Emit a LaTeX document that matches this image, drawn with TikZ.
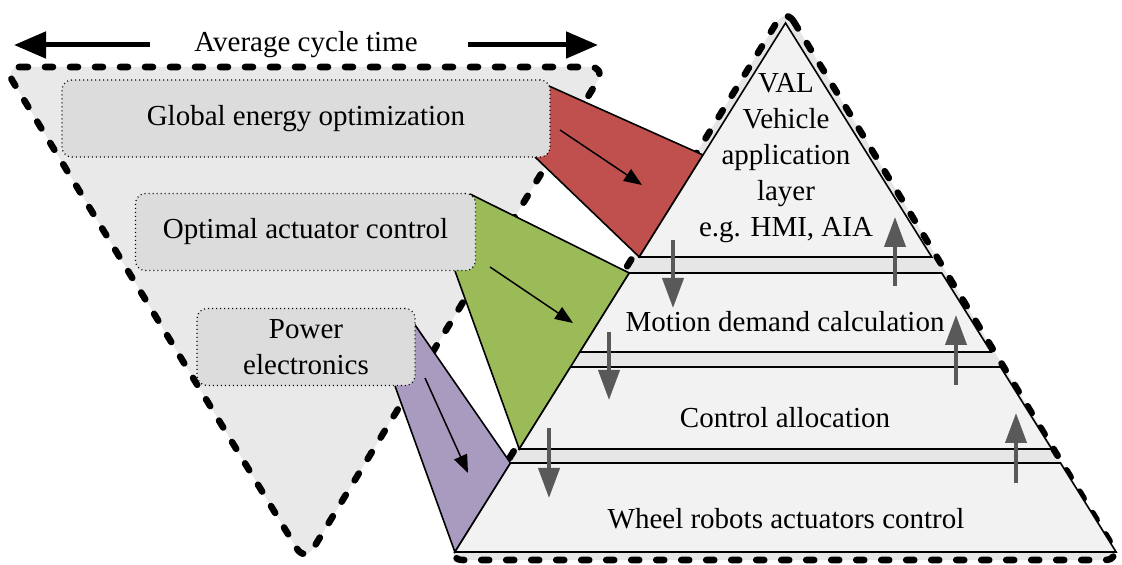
\documentclass[tikz,border=0pt]{standalone}
\usepackage{fontspec}
\setmainfont{Liberation Serif}
\usetikzlibrary{arrows.meta}
\definecolor{invfill}{HTML}{E9E9E9}
\definecolor{boxfill}{HTML}{DCDCDC}
\definecolor{bandfill}{HTML}{E6E6E6}
\definecolor{layerfill}{HTML}{F2F2F2}
\definecolor{redfill}{HTML}{C0504D}
\definecolor{greenfill}{HTML}{9BBB59}
\definecolor{purplefill}{HTML}{A99BC0}
\definecolor{arrowgray}{HTML}{595959}
\tikzset{
  dashborder/.style={draw=black, line width=3.3pt, dash pattern=on 4pt off 8.5pt, line cap=round, line join=round, rounded corners=8pt},
  layerbox/.style={fill=layerfill, draw=black, line width=0.8pt, line join=miter},
  dotbox/.style={draw=black, fill=boxfill, line width=0.6pt, dash pattern=on 0.5pt off 1.5pt, rounded corners=5pt, inner sep=0pt, align=center},
  wedge/.style={draw=black, line width=0.8pt, line join=miter},
  grayarrow/.style={draw=arrowgray, line width=2pt, -{Triangle[length=15pt,width=10.5pt]}},
  blackarrow/.style={draw=black, line width=0.75pt, -{Triangle[length=9pt,width=7pt]}},
  bigarrow/.style={draw=black, line width=2.5pt, -{Triangle[length=16pt,width=13pt]}},
  lbl/.style={font=\fontsize{14.5pt}{18pt}\selectfont, inner sep=0pt, align=center}
}
\begin{document}
\begin{tikzpicture}[x=0.5pt,y=-0.5pt]
\useasboundingbox (0,0) rectangle (1122,565);
% inverted triangle
\path[fill=invfill, rounded corners=8pt] (4,67) -- (606,67) -- (305,562) -- cycle;
\draw[dashborder] (4,67) -- (606,67) -- (305,562) -- cycle;
% pyramid outer
\path[fill=bandfill, rounded corners=8pt] (785.5,8) -- (1121,560) -- (447,560) -- cycle;
\draw[dashborder] (785.5,8) -- (1121,560) -- (447,560) -- cycle;
% coloured wedges
\fill[redfill] (540,82) -- (703,155) -- (639.25,257) -- (535,157) -- cycle;
\draw[wedge] (540,82) -- (703,155) -- (639.25,257) -- (535,157);
\fill[greenfill] (470,194) -- (629.25,273) -- (519.25,449) -- (455,271) -- cycle;
\draw[wedge] (470,194) -- (629.25,273) -- (519.25,449) -- (455,271);
\fill[purplefill] (413,322) -- (510.5,463) -- (454.9,552) -- (395,386) -- cycle;
\draw[wedge] (413,322) -- (510.5,463) -- (454.9,552) -- (395,386);
% boxes
\node[dotbox, minimum width=244pt, minimum height=38.5pt, lbl] (geo) at (306,118.5) {Global energy optimization};
\node[dotbox, minimum width=170pt, minimum height=38.5pt, lbl] (oac) at (305.5,232) {Optimal actuator control};
\node[dotbox, minimum width=109pt, minimum height=38.5pt, lbl] (pe) at (306,347) {Power\\electronics};
% pyramid layers
\draw[layerbox] (785.5,23) -- (931.75,257) -- (639.25,257) -- cycle;
\draw[layerbox] (629.25,273) -- (941.75,273) -- (991.1,352) -- (579.9,352) -- cycle;
\draw[layerbox] (570.5,367) -- (1000.5,367) -- (1051.75,449) -- (519.25,449) -- cycle;
\draw[layerbox] (510.5,463) -- (1060.5,463) -- (1116.1,552) -- (454.9,552) -- cycle;
% texts
\node[lbl] (val) at (786,158) {VAL\\Vehicle\\application\\layer\\e.g. HMI, AIA};
\node[lbl] (mdc) at (785,322) {Motion demand calculation};
\node[lbl] (ca) at (785,418) {Control allocation};
\node[lbl] (wrac) at (786,519) {Wheel robots actuators control};
\node[lbl] (act) at (306,45) {Average cycle time};
% top arrows
\coordinate (la0) at (150,45); \coordinate (la1) at (14,45);
\coordinate (ra0) at (468,45); \coordinate (ra1) at (598,45);
\draw[bigarrow] (la0) -- (la1);
\draw[bigarrow] (ra0) -- (ra1);
% black arrows in wedges
\coordinate (r0) at (560,130); \coordinate (r1) at (642,185);
\coordinate (g0) at (490,267); \coordinate (g1) at (573,323);
\coordinate (p0) at (425,378); \coordinate (p1) at (468,473);
\draw[blackarrow] (r0) -- (r1);
\draw[blackarrow] (g0) -- (g1);
\draw[blackarrow] (p0) -- (p1);
% gray arrows
\coordinate (d1a) at (673,240); \coordinate (d1b) at (673,308);
\coordinate (d2a) at (609,332); \coordinate (d2b) at (609,400);
\coordinate (d3a) at (549,428); \coordinate (d3b) at (549,498);
\coordinate (u1a) at (895,286); \coordinate (u1b) at (895,217);
\coordinate (u2a) at (956,385); \coordinate (u2b) at (956,315);
\coordinate (u3a) at (1016,483); \coordinate (u3b) at (1016,413);
\draw[grayarrow] (d1a) -- (d1b);
\draw[grayarrow] (d2a) -- (d2b);
\draw[grayarrow] (d3a) -- (d3b);
\draw[grayarrow] (u1a) -- (u1b);
\draw[grayarrow] (u2a) -- (u2b);
\draw[grayarrow] (u3a) -- (u3b);
\end{tikzpicture}
\end{document}
